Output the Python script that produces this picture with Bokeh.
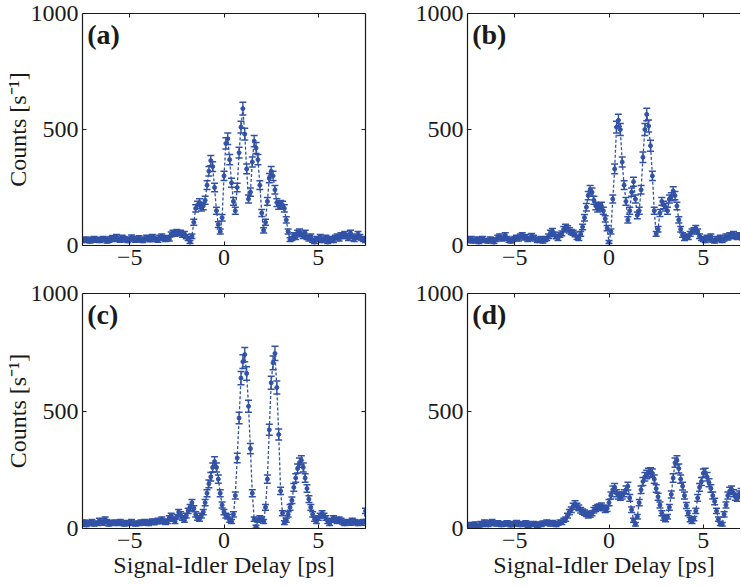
import numpy as np
from bokeh.plotting import figure
from bokeh.models import (ColumnDataSource, Whisker, TeeHead, LinearAxis,
                          FixedTicker, Label, Range1d)
from bokeh.layouts import column, row
from bokeh.embed import file_html
from bokeh.resources import INLINE

# ---------------- data ----------------
# signal-idler delay scan grid, ps (0.1 ps steps)
delay_ps = np.round(np.arange(-7.5, 7.5001, 0.1), 1)

counts_a = [25, 20, 28, 22, 18, 25, 30, 22, 27, 20, 24, 30, 26, 18, 22,
            30, 34, 25, 38, 28, 22, 35, 30, 25, 20, 28, 36, 30, 22, 26,
            33, 24, 20, 28, 35, 30, 24, 38, 32, 26, 22, 35, 40, 30, 25,
            34, 28, 48, 55, 50, 58, 52, 55, 45, 50, 38, 30, 15, 40, 100,
            160, 175, 185, 165, 170, 195, 260, 320, 366, 340, 250, 150, 90, 60, 120,
            300, 440, 460, 370, 270, 190, 150, 250, 400, 510, 590, 480, 330, 200, 230,
            360, 450, 420, 370, 260, 140, 65, 100, 190, 290, 320, 300, 240, 185, 172,
            178, 175, 160, 110, 60, 25, 30, 45, 35, 55, 60, 48, 40, 55, 35,
            28, 40, 22, 15, 30, 25, 38, 20, 28, 35, 15, 25, 30, 20, 35,
            40, 28, 45, 38, 50, 42, 30, 55, 40, 25, 35, 50, 38, 30, 25, 20]

counts_b = [25, 20, 30, 18, 22, 28, 15, 25, 30, 20, 22, 18, 28, 24, 15,
            25, 35, 40, 28, 32, 45, 30, 22, 18, 25, 30, 35, 28, 40, 45,
            32, 38, 25, 30, 42, 35, 28, 20, 24, 30, 18, 25, 30, 40, 55,
            62, 48, 38, 30, 45, 52, 70, 80, 74, 65, 58, 55, 48, 35, 30,
            50, 80, 120, 165, 215, 240, 230, 195, 170, 160, 165, 170, 150, 115, 75,
            15, 60, 200, 330, 510, 540, 500, 360, 260, 190, 110, 150, 230, 275, 200,
            130, 150, 240, 380, 500, 565, 515, 430, 300, 150, 50, 70, 140, 190, 175,
            165, 150, 200, 210, 235, 215, 170, 110, 70, 45, 30, 40, 35, 50, 60,
            65, 75, 60, 40, 30, 25, 20, 35, 28, 40, 22, 18, 30, 25, 35,
            20, 28, 40, 32, 45, 38, 50, 42, 35, 45, 40, 30, 25, 35, 28, 30]

counts_c = [20, 28, 15, 25, 22, 30, 18, 24, 20, 35, 28, 22, 40, 30, 18,
            25, 22, 28, 20, 24, 30, 22, 18, 26, 20, 25, 30, 22, 18, 24,
            20, 28, 22, 30, 25, 20, 28, 32, 24, 30, 35, 28, 40, 32, 25,
            30, 45, 55, 40, 30, 50, 70, 60, 45, 35, 55, 75, 90, 110, 85,
            60, 45, 40, 55, 70, 110, 150, 190, 220, 260, 285, 260, 210, 150, 100,
            70, 55, 50, 35, 30, 60, 140, 300, 470, 640, 710, 740, 660, 520, 340,
            150, 40, 8, 35, 45, 40, 30, 90, 210, 420, 620, 705, 745, 600, 400,
            160, 65, 25, 35, 60, 90, 120, 175, 215, 255, 280, 290, 260, 215, 170,
            125, 90, 60, 40, 30, 45, 55, 65, 55, 45, 30, 20, 35, 45, 38,
            30, 40, 35, 25, 20, 30, 28, 22, 35, 30, 25, 20, 28, 22, 30, 75]

counts_d = [12, 18, 10, 15, 20, 12, 8, 22, 15, 28, 20, 15, 25, 30, 22,
            18, 25, 20, 15, 22, 18, 25, 20, 14, 22, 18, 26, 20, 15, 22,
            18, 25, 12, 20, 15, 22, 18, 12, 20, 16, 24, 20, 28, 22, 18,
            26, 20, 15, 22, 28, 25, 35, 40, 55, 70, 80, 95, 105, 95, 88,
            78, 72, 68, 62, 55, 58, 65, 78, 85, 90, 92, 96, 88, 80, 85,
            110, 140, 165, 175, 150, 140, 135, 140, 150, 165, 180, 130, 80, 35, 18,
            50, 110, 165, 200, 220, 230, 238, 240, 235, 210, 170, 135, 100, 65, 45,
            38, 50, 90, 145, 215, 280, 290, 255, 210, 180, 140, 98, 65, 38, 30,
            42, 75, 130, 175, 200, 235, 238, 220, 195, 170, 140, 115, 75, 40, 20,
            18, 60, 100, 140, 160, 165, 150, 135, 130, 145, 155, 140, 130, 120, 110, 100]

panel_labels = ["(a)", "(b)", "(c)", "(d)"]
x_ticks = [-5, 0, 5]
x_tick_labels = {-5: "\u22125", 0: "0", 5: "5"}
y_ticks = [0, 500, 1000]
x_title = "Signal-Idler Delay [ps]"
y_title = "Counts [s\u207b\u00b9]"

# ---------------- style ----------------
BLUE = "#3252a6"
INK = "#1a1a1a"
FONT = "Liberation Serif"
X_START, X_END_FULL = -7.5, 7.5
FULL_PLOT_W = 370 - 82 - 5   # plot width of the un-clipped left panels


def style_axis(ax, ticks, labels=None, show=True):
    ax.ticker = FixedTicker(ticks=ticks)
    ax.major_tick_in = 4
    ax.major_tick_out = 0
    ax.minor_tick_line_color = None
    ax.axis_line_color = INK
    ax.axis_line_width = 1.2
    ax.major_tick_line_color = INK
    ax.major_label_text_font = FONT
    ax.major_label_text_color = INK
    ax.axis_label_text_font = FONT
    ax.axis_label_text_font_style = "normal"
    ax.axis_label_text_color = INK
    ax.axis_label_text_font_size = "24px"
    if show:
        ax.major_label_text_font_size = "24px"
        ax.major_label_standoff = 4
        if labels:
            ax.major_label_overrides = labels
    else:
        ax.major_label_text_font_size = "0px"
        ax.major_label_standoff = 0
        ax.major_label_overrides = {t: "" for t in ticks}


def make_panel(counts, label, width, height, left, right, top, bottom,
               ylabel, xlabel, right_axis):
    plot_w = width - left - right
    x_end = X_START + (X_END_FULL - X_START) * plot_w / FULL_PLOT_W
    p = figure(width=width, height=height,
               x_range=Range1d(X_START, x_end), y_range=Range1d(0, 1000),
               output_backend="svg", toolbar_location=None,
               x_axis_location=None, y_axis_location=None,
               min_border_left=left, min_border_right=right,
               min_border_top=top, min_border_bottom=bottom)
    p.grid.visible = False
    p.outline_line_color = None
    p.background_fill_color = "white"
    p.border_fill_color = "white"

    yl = LinearAxis()
    style_axis(yl, y_ticks)
    yl.axis_label = y_title if ylabel else None
    yl.axis_label_standoff = -3
    p.add_layout(yl, "left")

    xb = LinearAxis()
    style_axis(xb, x_ticks, x_tick_labels)
    xb.axis_label = x_title if xlabel else None
    xb.axis_label_standoff = 1
    p.add_layout(xb, "below")

    xa = LinearAxis()
    style_axis(xa, x_ticks, show=False)
    p.add_layout(xa, "above")
    if right_axis:
        yr = LinearAxis()
        style_axis(yr, y_ticks, show=False)
        p.add_layout(yr, "right")

    c = np.array(counts, dtype=float)
    err = np.sqrt(c) + 3.0   # Poisson-type error bars
    src = ColumnDataSource(dict(x=delay_ps, y=c,
                                upper=np.minimum(c + err, 1000),
                                lower=np.maximum(c - err, 0)))
    p.line("x", "y", source=src, line_color=BLUE, line_width=1.3,
           line_dash="3 2")
    p.add_layout(Whisker(source=src, base="x", upper="upper", lower="lower",
                         line_color=BLUE, line_width=1.4,
                         upper_head=TeeHead(size=7, line_color=BLUE, line_width=1.5),
                         lower_head=TeeHead(size=7, line_color=BLUE, line_width=1.5)))
    p.scatter("x", "y", source=src, size=4, color=BLUE)

    p.add_layout(Label(x=X_START + 0.25, y=975, text=label, text_font=FONT,
                       text_font_size="28px", text_font_style="bold",
                       text_color=INK, text_align="left",
                       text_baseline="top"))
    return p


pa = make_panel(counts_a, panel_labels[0], 370, 280, 82, 5, 13, 35, True, False, True)
pb = make_panel(counts_b, panel_labels[1], 370, 280, 97, 0, 13, 35, False, False, False)
pc = make_panel(counts_c, panel_labels[2], 370, 306, 82, 5, 13, 58, True, True, True)
pd = make_panel(counts_d, panel_labels[3], 370, 306, 97, 0, 13, 58, False, True, False)

layout = column(row(pa, pb), row(pc, pd))
open("out.html", "w").write(file_html(layout, INLINE))
